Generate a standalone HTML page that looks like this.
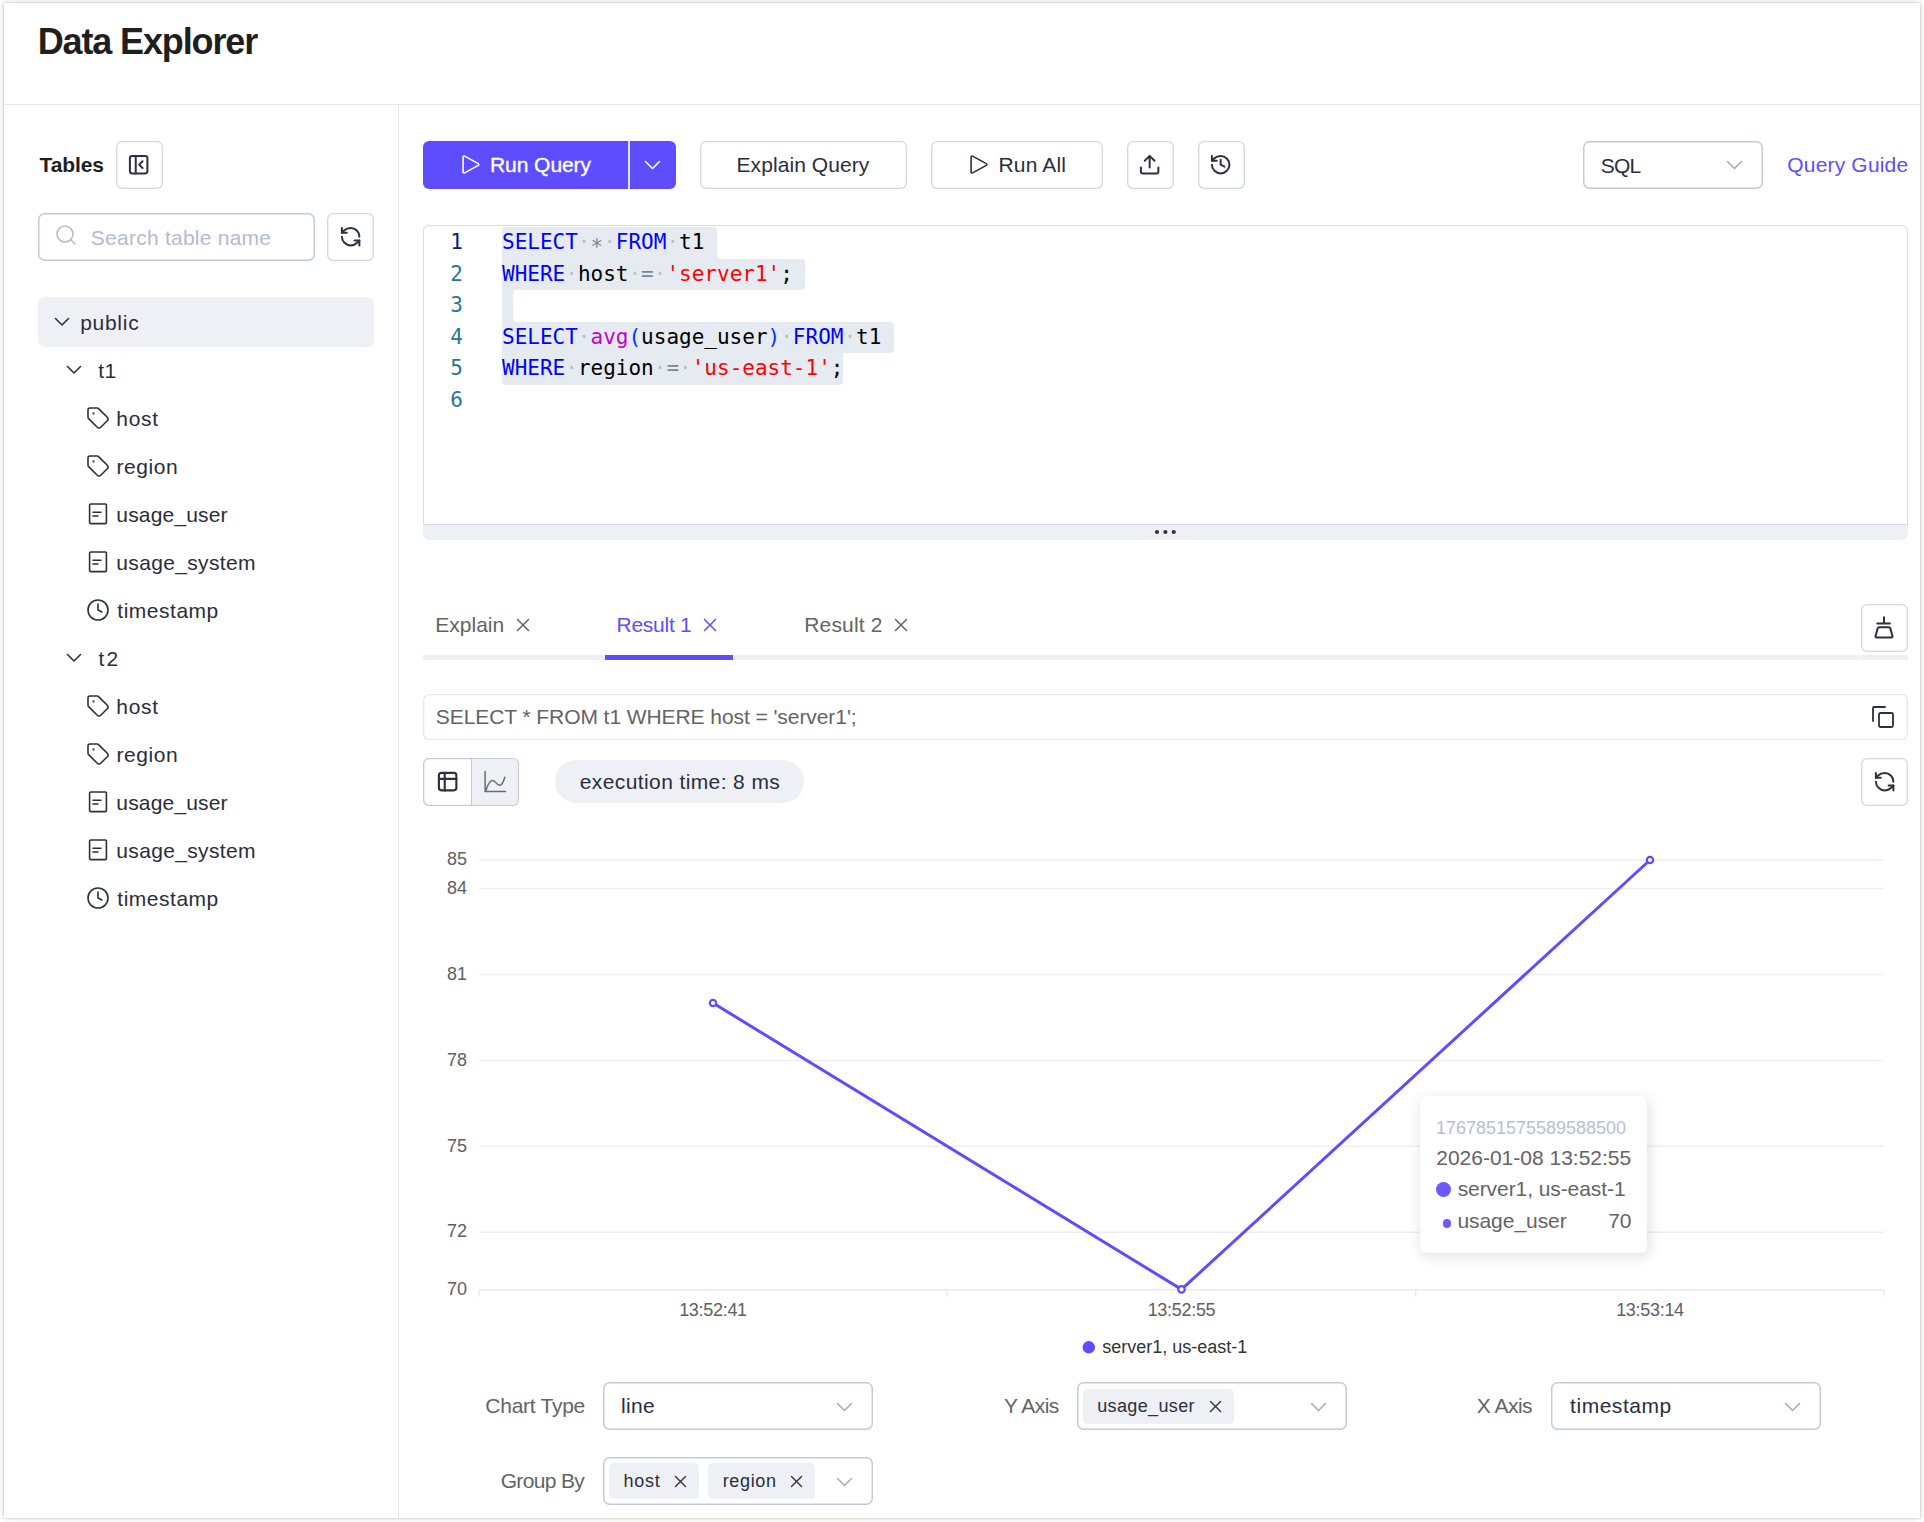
<!DOCTYPE html>
<html lang="en">
<head>
<meta charset="utf-8">
<title>Data Explorer</title>
<style>
*{box-sizing:border-box;margin:0;padding:0}
html,body{width:1924px;height:1522px;overflow:hidden;background:#fff}
body{font-family:"Liberation Sans","DejaVu Sans",sans-serif;color:#2a2e3c;font-size:21px;position:relative}
#page{position:absolute;left:4px;top:3px;width:1916px;height:1515px;background:#fff;box-shadow:0 0 5px rgba(0,0,0,.22),0 0 1px rgba(0,0,0,.25)}
.abs,.t,.box,svg.i{position:absolute}
.t{white-space:pre;line-height:1;display:block}
.b{font-weight:bold}
.box{border:none;box-shadow:inset 0 0 0 1.350px var(--bc,#d5d8e2);border-radius:6px;background:#fff}
.inp{--bc:#c4c9d8;box-shadow:inset 0 0 0 1.500px var(--bc);border-radius:6.500px}
svg.i{overflow:visible;fill:none;stroke:#2d303d;stroke-width:1.6;stroke-linecap:round;stroke-linejoin:round}
svg.ib{stroke-width:2.060}
.hl{position:absolute;background:#e5ebf1}
.code{font-family:"DejaVu Sans Mono","Liberation Mono",monospace;font-size:21px;letter-spacing:0}
.kw{color:#0000ff}.fn{color:#c700c7}.st{color:#ff0000}.op{color:#778899}.br{color:#0431fa}.ws{color:rgba(51,51,51,.25)}
.ln{color:#237893;text-align:right;width:40px}
.gray{color:#636363}
.pu{color:#5e4dff}
.tag{position:absolute;background:#eff0f6;border-radius:5px}
</style>
</head>
<body>
<div id="page"></div>

<!-- ===== header ===== -->
<span id="title" class="t b" style="left:37.71px;letter-spacing:-1.136px;top:23.8px;font-size:36px;color:#1f1f1f">Data Explorer</span>
<div class="abs" style="left:4px;top:104px;width:1916px;height:1px;background:#e5e6ea"></div>
<div class="abs" style="left:398px;top:105px;width:1px;height:1413px;background:#e5e6ea"></div>

<!-- ===== sidebar ===== -->
<span id="tables" class="t b" style="left:39.48px;letter-spacing:-0.095px;top:154px;color:#1f1f1f">Tables</span>
<div class="box" style="left:116px;top:141px;width:47px;height:48px"></div>
<svg class="i ib" style="left:127px;top:153.200px" width="23.300" height="23.300" viewBox="0 0 24 24"><rect x="3" y="3" width="18" height="18" rx="2.200"/><path d="M9 3v18M16 15.500l-3.500-3.500 3.500-3.500"/></svg>

<div class="box inp" style="left:38px;top:213px;width:277px;height:48px"></div>
<svg class="i" style="left:54px;top:223px;stroke:#b6bdcd" width="24" height="24" viewBox="0 0 24 24"><circle cx="11" cy="11" r="8"/><path d="M21 21l-4.3-4.3"/></svg>
<span id="ph" class="t" style="left:90.82px;letter-spacing:0.245px;top:227px;color:#b4bbcc">Search table name</span>
<div class="box" style="left:327px;top:213px;width:47px;height:48px"></div>
<svg class="i ib" style="left:338.800px;top:225.200px" width="23.300" height="23.300" viewBox="0 0 24 24"><path d="M21 12a9 9 0 0 0-9-9 9.750 9.750 0 0 0-6.740 2.740L3 8"/><path d="M3 3v5h5"/><path d="M3 12a9 9 0 0 0 9 9 9.750 9.750 0 0 0 6.740-2.740L21 16"/><path d="M16 16h5v5"/></svg>

<div class="abs" style="left:38px;top:297px;width:336px;height:50px;background:#eff0f6;border-radius:7px"></div>
<svg class="i" style="left:55px;top:318px" width="14" height="8" viewBox="0 0 14 8"><path d="M0.5 0.5l6.5 6.5 6.5-6.5"/></svg>
<span id="s_public" class="t" style="left:80.13px;letter-spacing:0.732px;top:312px">public</span>

<svg class="i" style="left:67px;top:366px" width="14" height="8" viewBox="0 0 14 8"><path d="M0.5 0.5l6.5 6.5 6.5-6.5"/></svg>
<span id="s_t1" class="t" style="left:98.300px;letter-spacing:0.300px;top:360px">t1</span>
<svg class="i" style="left:86px;top:406px" width="24" height="24" viewBox="0 0 24 24"><path d="M12.586 2.586A2 2 0 0 0 11.172 2H4a2 2 0 0 0-2 2v7.172a2 2 0 0 0 .586 1.414l8.704 8.704a2.426 2.426 0 0 0 3.42 0l6.58-6.58a2.426 2.426 0 0 0 0-3.42z"/><circle cx="7.500" cy="7.500" r=".350" fill="#2a2e3c"/></svg>
<span id="s_host1" class="t" style="left:116.29px;letter-spacing:0.731px;top:408px">host</span>
<svg class="i" style="left:86px;top:454px" width="24" height="24" viewBox="0 0 24 24"><path d="M12.586 2.586A2 2 0 0 0 11.172 2H4a2 2 0 0 0-2 2v7.172a2 2 0 0 0 .586 1.414l8.704 8.704a2.426 2.426 0 0 0 3.42 0l6.58-6.58a2.426 2.426 0 0 0 0-3.42z"/><circle cx="7.500" cy="7.500" r=".350" fill="#2a2e3c"/></svg>
<span id="s_region1" class="t" style="left:116.52px;letter-spacing:0.553px;top:456px">region</span>
<svg class="i" style="left:86px;top:502px" width="24" height="24" viewBox="0 0 24 24"><rect x="3.6" y="2" width="16.8" height="19.6" rx="1"/><path d="M7 10.3h8M7 14h5"/></svg>
<span id="s_uu1" class="t" style="left:116.35px;letter-spacing:0.169px;top:504px">usage_user</span>
<svg class="i" style="left:86px;top:550px" width="24" height="24" viewBox="0 0 24 24"><rect x="3.6" y="2" width="16.8" height="19.6" rx="1"/><path d="M7 10.3h8M7 14h5"/></svg>
<span id="s_us1" class="t" style="left:116.35px;letter-spacing:0.337px;top:552px">usage_system</span>
<svg class="i" style="left:86px;top:598px" width="24" height="24" viewBox="0 0 24 24"><circle cx="12" cy="12" r="10"/><path d="M12 6v6l4 2"/></svg>
<span id="s_ts1" class="t" style="left:117.35px;letter-spacing:0.511px;top:600px">timestamp</span>

<svg class="i" style="left:67px;top:654px" width="14" height="8" viewBox="0 0 14 8"><path d="M0.5 0.5l6.5 6.5 6.5-6.5"/></svg>
<span id="s_t2" class="t" style="left:98.39px;letter-spacing:2.275px;top:648px">t2</span>
<svg class="i" style="left:86px;top:694px" width="24" height="24" viewBox="0 0 24 24"><path d="M12.586 2.586A2 2 0 0 0 11.172 2H4a2 2 0 0 0-2 2v7.172a2 2 0 0 0 .586 1.414l8.704 8.704a2.426 2.426 0 0 0 3.42 0l6.58-6.58a2.426 2.426 0 0 0 0-3.42z"/><circle cx="7.500" cy="7.500" r=".350" fill="#2a2e3c"/></svg>
<span id="s_host2" class="t" style="left:116.29px;letter-spacing:0.731px;top:696px">host</span>
<svg class="i" style="left:86px;top:742px" width="24" height="24" viewBox="0 0 24 24"><path d="M12.586 2.586A2 2 0 0 0 11.172 2H4a2 2 0 0 0-2 2v7.172a2 2 0 0 0 .586 1.414l8.704 8.704a2.426 2.426 0 0 0 3.42 0l6.58-6.58a2.426 2.426 0 0 0 0-3.42z"/><circle cx="7.500" cy="7.500" r=".350" fill="#2a2e3c"/></svg>
<span id="s_region2" class="t" style="left:116.52px;letter-spacing:0.553px;top:744px">region</span>
<svg class="i" style="left:86px;top:790px" width="24" height="24" viewBox="0 0 24 24"><rect x="3.6" y="2" width="16.8" height="19.6" rx="1"/><path d="M7 10.3h8M7 14h5"/></svg>
<span id="s_uu2" class="t" style="left:116.35px;letter-spacing:0.169px;top:792px">usage_user</span>
<svg class="i" style="left:86px;top:838px" width="24" height="24" viewBox="0 0 24 24"><rect x="3.6" y="2" width="16.8" height="19.6" rx="1"/><path d="M7 10.3h8M7 14h5"/></svg>
<span id="s_us2" class="t" style="left:116.35px;letter-spacing:0.337px;top:840px">usage_system</span>
<svg class="i" style="left:86px;top:886px" width="24" height="24" viewBox="0 0 24 24"><circle cx="12" cy="12" r="10"/><path d="M12 6v6l4 2"/></svg>
<span id="s_ts2" class="t" style="left:117.35px;letter-spacing:0.511px;top:888px">timestamp</span>
<!-- SIDEBAR -->
<!-- ===== toolbar ===== -->
<div class="abs" style="left:423px;top:141px;width:253px;height:48px;background:#5e4dff;border-radius:6px"></div>
<div class="abs" style="left:628px;top:141px;width:1.5px;height:48px;background:#e3dfff"></div>
<svg class="i" style="left:459px;top:153px;stroke:#fff" width="24" height="24" viewBox="0 0 24 24"><path d="M4.100 4V19a1 1 0 0 0 1.520.860L19.300 12.360a1 1 0 0 0 0-1.720L5.620 3.140A1 1 0 0 0 4.100 4z"/></svg>
<span id="runq" class="t" style="left:489.99px;letter-spacing:-0.06px;top:154px;color:#fff;-webkit-text-stroke:.35px #fff">Run Query</span>
<svg class="i" style="left:644.5px;top:161px;stroke:#fff" width="15" height="8" viewBox="0 0 15 8"><path d="M0.5 0.5l7 7 7-7"/></svg>

<div class="box" style="left:700px;top:141px;width:207px;height:48px"></div>
<span id="explq" class="t" style="left:736.53px;letter-spacing:0.069px;top:154px">Explain Query</span>
<div class="box" style="left:931px;top:141px;width:172px;height:48px"></div>
<svg class="i" style="left:967px;top:153px" width="24" height="24" viewBox="0 0 24 24"><path d="M4.100 4V19a1 1 0 0 0 1.520.860L19.300 12.360a1 1 0 0 0 0-1.720L5.620 3.140A1 1 0 0 0 4.100 4z"/></svg>
<span id="runall" class="t" style="left:998.54px;letter-spacing:0.145px;top:154px">Run All</span>
<div class="box" style="left:1127px;top:141px;width:47px;height:48px"></div>
<svg class="i ib" style="left:1138.100px;top:153.400px" width="23.300" height="23.300" viewBox="0 0 24 24"><path d="M12 3v12M7 8L12 3l5 5"/><path d="M3 15v4a2 2 0 0 0 2 2h14a2 2 0 0 0 2-2v-4"/></svg>
<div class="box" style="left:1198px;top:141px;width:47px;height:48px"></div>
<svg class="i ib" style="left:1208.700px;top:153.400px" width="23.300" height="23.300" viewBox="0 0 24 24"><path d="M3 12a9 9 0 1 0 9-9 9.75 9.75 0 0 0-6.740 2.740L3 8"/><path d="M3 3v5h5"/><path d="M12 7v5l4 2"/></svg>

<div class="box inp" style="left:1583px;top:141px;width:180px;height:48px"></div>
<span id="sql" class="t" style="left:1600.82px;letter-spacing:-0.822px;top:155px">SQL</span>
<svg class="i" style="left:1727px;top:161px;stroke:#a3aabb;stroke-width:1.5" width="15" height="8" viewBox="0 0 15 8"><path d="M0.5 0.5l7 7 7-7"/></svg>
<span id="qguide" class="t pu" style="left:1787.29px;letter-spacing:0.177px;top:154px">Query Guide</span>
<!-- TOOLBAR -->
<!-- ===== editor ===== -->
<div class="abs" style="left:423px;top:225px;width:1485px;height:315px;background:#eff0f6;border-radius:6px"></div>
<div class="abs" style="left:423px;top:225px;width:1485px;height:300px;background:#fff;border:1px solid #d9dce6;border-radius:6px 6px 0 0"></div>
<div class="hl" style="left:502px;top:227.0px;width:214.9px;height:31.8px;border-radius:4px 4px 0 0"></div>
<div class="hl" style="left:502px;top:258.5px;width:303.4px;height:31.8px;border-radius:0 4px 4px 0"></div>
<div class="hl" style="left:502px;top:290.0px;width:11.4px;height:31.8px"></div>
<div class="hl" style="left:502px;top:321.5px;width:391.8px;height:31.8px;border-radius:0 4px 4px 0"></div>
<div class="hl" style="left:502px;top:353.0px;width:341.3px;height:31.8px;border-radius:0 0 4px 4px"></div>
<div class="abs" style="left:716.900px;top:254.500px;width:4px;height:4px;background:radial-gradient(circle at 100% 0,#fff 3.600px,#e5ebf1 4.200px)"></div>
<div class="abs" style="left:513.400px;top:290.300px;width:4px;height:4px;background:radial-gradient(circle at 100% 100%,#fff 3.600px,#e5ebf1 4.200px)"></div>
<div class="abs" style="left:513.400px;top:317.500px;width:4px;height:4px;background:radial-gradient(circle at 100% 0,#fff 3.600px,#e5ebf1 4.200px)"></div>
<span class="t code ln" style="left:423px;top:232.0px;color:#0b216f">1</span>
<span id="code1" class="t code" style="left:502px;top:232.0px;color:#000"><span class="kw">SELECT</span><span class="ws">·</span><span class="op" style="position:relative;top:4.500px">*</span><span class="ws">·</span><span class="kw">FROM</span><span class="ws">·</span>t1</span>
<span class="t code ln" style="left:423px;top:263.5px">2</span>
<span id="code2" class="t code" style="left:502px;top:263.5px;color:#000"><span class="kw">WHERE</span><span class="ws">·</span>host<span class="ws">·</span><span class="op">=</span><span class="ws">·</span><span class="st">'server1'</span>;</span>
<span class="t code ln" style="left:423px;top:295.0px">3</span>
<span class="t code ln" style="left:423px;top:326.5px">4</span>
<span id="code4" class="t code" style="left:502px;top:326.5px;color:#000"><span class="kw">SELECT</span><span class="ws">·</span><span class="fn">avg</span><span class="br">(</span>usage_user<span class="br">)</span><span class="ws">·</span><span class="kw">FROM</span><span class="ws">·</span>t1</span>
<span class="t code ln" style="left:423px;top:358.0px">5</span>
<span id="code5" class="t code" style="left:502px;top:358.0px;color:#000"><span class="kw">WHERE</span><span class="ws">·</span>region<span class="ws">·</span><span class="op">=</span><span class="ws">·</span><span class="st">'us-east-1'</span>;</span>
<span class="t code ln" style="left:423px;top:389.5px">6</span>
<svg class="abs" style="left:1153px;top:528px" width="26" height="8" viewBox="0 0 26 8"><circle cx="4" cy="4" r="2.100" fill="#2d303d"/><circle cx="12.400" cy="4" r="2.100" fill="#2d303d"/><circle cx="20.800" cy="4" r="2.100" fill="#2d303d"/></svg>
<!-- EDITOR -->
<!-- ===== tabs ===== -->
<div class="abs" style="left:423px;top:655px;width:1437px;height:5px;background:#eff0f6"></div>
<div class="abs" style="left:1861px;top:655px;width:47px;height:5px;background:#eff0f6"></div>
<div class="abs" style="left:605px;top:655px;width:128px;height:5px;background:#5e4dff"></div>
<span id="tab1" class="t gray" style="left:435.19px;letter-spacing:0.03px;top:614px">Explain</span>
<svg class="i" style="left:516.500px;top:618.500px;stroke:#636363;stroke-width:1.5" width="12" height="12" viewBox="0 0 12 12"><path d="M0.5 0.5l11 11M11.500 0.5l-11 11"/></svg>
<span id="tab2" class="t pu" style="left:616.54px;letter-spacing:-0.259px;top:614px">Result 1</span>
<svg class="i" style="left:704px;top:618.500px;stroke:#5e4dff;stroke-width:1.5" width="12" height="12" viewBox="0 0 12 12"><path d="M0.5 0.5l11 11M11.500 0.5l-11 11"/></svg>
<span id="tab3" class="t gray" style="left:804.24px;letter-spacing:0.158px;top:614px">Result 2</span>
<svg class="i" style="left:894.500px;top:618.500px;stroke:#636363;stroke-width:1.5" width="12" height="12" viewBox="0 0 12 12"><path d="M0.5 0.5l11 11M11.500 0.5l-11 11"/></svg>
<div class="box" style="left:1861px;top:604px;width:47px;height:48px"></div>
<svg class="i" style="left:1872px;top:612px;stroke-width:2" width="24" height="28" viewBox="0 0 24 28"><path d="M12 5.200V11.400M5.200 11.400H17.900M7.400 15.300H16.600Q18.100 15.300 18.500 16.800L20.400 24Q20.800 25.600 19.200 25.600H4.800Q3.200 25.600 3.600 24L5.500 16.800Q5.900 15.300 7.400 15.300Z"/></svg>

<!-- sql bar -->
<div class="box" style="left:423px;top:694px;width:1485px;height:46px;--bc:#e6e8ee"></div>
<span id="sqlbar" class="t gray" style="left:435.82px;letter-spacing:-0.072px;top:706.4px">SELECT * FROM t1 WHERE host = 'server1';</span>
<svg class="i" style="left:1870.500px;top:704.800px;stroke-width:1.800" width="24" height="24" viewBox="0 0 24 24"><rect x="8" y="8" width="14" height="14" rx="1.500"/><path d="M2 16V3A1 1 0 0 1 3 2H14"/></svg>

<!-- view toggle -->
<div class="box" style="left:423px;top:758px;width:96px;height:48px;--bc:#c6cbda"></div>
<div class="abs" style="left:472px;top:759px;width:46px;height:46px;background:#eff0f6;border-radius:0 5px 5px 0"></div>
<div class="abs" style="left:471px;top:758px;width:1px;height:48px;background:#c3c8d8"></div>
<svg class="i ib" style="left:435.700px;top:770.200px;stroke-width:2.200" width="23.300" height="23.300" viewBox="0 0 24 24"><rect x="3" y="3" width="18" height="18" rx="2.600"/><path d="M3 9.200h18M9 3v18"/></svg>
<svg class="i" style="left:483px;top:770px;stroke:#6b6b6b;stroke-width:1.500" width="24" height="24" viewBox="0 0 24 24"><path d="M2.100 1.400V21.400H22.600"/><path d="M3 20.600C4.500 15 7 10.400 9.700 10.400C12.700 10.400 13.500 15.300 16.500 15.300C19 15.300 20.800 11 21.800 7.300"/></svg>
<div class="abs" style="left:555px;top:760px;width:249px;height:43px;background:#eff0f6;border-radius:22px"></div>
<span id="exec" class="t" style="left:579.79px;letter-spacing:0.391px;top:771px">execution time: 8 ms</span>
<div class="box" style="left:1861px;top:758px;width:47px;height:48px"></div>
<svg class="i ib" style="left:1872.900px;top:770.200px" width="23.300" height="23.300" viewBox="0 0 24 24"><path d="M21 12a9 9 0 0 0-9-9 9.750 9.750 0 0 0-6.740 2.740L3 8"/><path d="M3 3v5h5"/><path d="M3 12a9 9 0 0 0 9 9 9.750 9.750 0 0 0 6.740-2.740L21 16"/><path d="M16 16h5v5"/></svg>
<!-- TABS -->
<!-- ===== chart ===== -->
<svg class="abs" style="left:423px;top:830px;font-family:'Liberation Sans',sans-serif" width="1485" height="540" viewBox="423 830 1485 540">
<g stroke="#eceef6" stroke-width="1.5" fill="none">
<path d="M479 860H1884M479 888.6H1884M479 974.5H1884M479 1060.4H1884M479 1146.3H1884M479 1232.2H1884"/>
<path d="M479 1289.7H1884M479 1289.7v7M947.3 1289.7v7M1415.700 1289.7v7M1884 1289.7v7" stroke="#e9ebf4"/>
</g>
<g font-size="18" fill="#606060" text-anchor="end">
<text x="467" y="865">85</text>
<text x="467" y="893.5">84</text>
<text x="467" y="979.5">81</text>
<text x="467" y="1065.5">78</text>
<text x="467" y="1151.5">75</text>
<text x="467" y="1237">72</text>
<text x="467" y="1294.5">70</text>
</g>
<g font-size="18" fill="#606060" text-anchor="middle" letter-spacing="-0.3">
<text x="713" y="1315.700">13:52:41</text>
<text x="1181.500" y="1315.700">13:52:55</text>
<text x="1650" y="1315.700">13:53:14</text>
</g>
<polyline points="713,1003 1181.500,1289.400 1650,860" fill="none" stroke="#5e4dff" stroke-width="3" stroke-linejoin="bevel"/>
<g fill="#fff" stroke="#5e4dff" stroke-width="2.200">
<circle cx="713" cy="1003" r="3.200"/><circle cx="1181.500" cy="1289.400" r="3.200"/><circle cx="1650" cy="860" r="3.200"/>
</g>
<circle cx="1088.800" cy="1347.300" r="6.200" fill="#5e4dff"/>
<text x="1102.300" y="1352.800" font-size="18" fill="#333">server1, us-east-1</text>
</svg>
<!-- tooltip -->
<div class="abs" style="left:1420px;top:1095.500px;width:227px;height:157px;background:#fff;border-radius:6px;box-shadow:1.500px 3px 14px rgba(0,0,0,.13)"></div>
<span id="tt1" class="t" style="left:1435.97px;letter-spacing:-0.004px;top:1119px;font-size:18px;color:#b8c0cf">1767851575589588500</span>
<span id="tt2" class="t" style="left:1436.26px;letter-spacing:-0.003px;top:1147.400px;color:#646464">2026-01-08 13:52:55</span>
<div class="abs" style="left:1436px;top:1181.500px;width:15px;height:15px;border-radius:50%;background:#6a5aff"></div>
<span id="tt3" class="t" style="left:1457.68px;letter-spacing:-0.079px;top:1178.400px;color:#646464">server1, us-east-1</span>
<div class="abs" style="left:1442.500px;top:1219px;width:8.500px;height:8.500px;border-radius:50%;background:#6a5aff"></div>
<span id="tt4" class="t" style="left:1457.4px;letter-spacing:-0.043px;top:1210.400px;color:#646464">usage_user</span>
<span id="tt5" class="t" style="left:1608.32px;letter-spacing:-0.346px;top:1210.400px;color:#646464">70</span>
<!-- CHART -->
<!-- ===== controls ===== -->
<span id="c_ct" class="t gray" style="left:485.34px;letter-spacing:-0.262px;top:1394.800px;">Chart Type</span>
<div class="box inp" style="left:603px;top:1382px;width:270px;height:48px"></div>
<span id="c_line" class="t" style="left:621.1px;letter-spacing:0.316px;top:1395px;">line</span>
<svg class="i" style="left:837px;top:1402.500px;stroke:#a3aabb;stroke-width:1.5" width="15" height="8" viewBox="0 0 15 8"><path d="M0.5 0.5l7 7 7-7"/></svg>

<span id="c_y" class="t gray" style="left:1003.97px;letter-spacing:-0.53px;top:1394.800px;">Y Axis</span>
<div class="box inp" style="left:1077px;top:1382px;width:270px;height:48px"></div>
<div class="tag" style="left:1083px;top:1388.500px;width:151px;height:35.500px"></div>
<span id="c_yu" class="t" style="left:1097.17px;letter-spacing:0.377px;top:1397px;font-size:18px">usage_user</span>
<svg class="i" style="left:1209.500px;top:1400.500px;stroke-width:1.400" width="11" height="11" viewBox="0 0 11 11"><path d="M0.5 0.5l10 10M10.500 0.5l-10 10"/></svg>
<svg class="i" style="left:1311px;top:1402.500px;stroke:#a3aabb;stroke-width:1.5" width="15" height="8" viewBox="0 0 15 8"><path d="M0.5 0.5l7 7 7-7"/></svg>

<span id="c_x" class="t gray" style="left:1476.81px;letter-spacing:-0.523px;top:1394.800px;">X Axis</span>
<div class="box inp" style="left:1551px;top:1382px;width:270px;height:48px"></div>
<span id="c_ts" class="t" style="left:1570.1px;letter-spacing:0.525px;top:1395px;">timestamp</span>
<svg class="i" style="left:1785px;top:1402.500px;stroke:#a3aabb;stroke-width:1.5" width="15" height="8" viewBox="0 0 15 8"><path d="M0.5 0.5l7 7 7-7"/></svg>

<span id="c_gb" class="t gray" style="left:500.68px;letter-spacing:-0.661px;top:1469.800px;">Group By</span>
<div class="box inp" style="left:603px;top:1457px;width:270px;height:48px"></div>
<div class="tag" style="left:609px;top:1463px;width:90px;height:35.500px"></div>
<span id="c_h" class="t" style="left:623.62px;letter-spacing:0.729px;top:1471.500px;font-size:18px">host</span>
<svg class="i" style="left:674.500px;top:1475.500px;stroke-width:1.400" width="11" height="11" viewBox="0 0 11 11"><path d="M0.5 0.5l10 10M10.500 0.5l-10 10"/></svg>
<div class="tag" style="left:708px;top:1463px;width:107px;height:35.500px"></div>
<span id="c_r" class="t" style="left:722.69px;letter-spacing:0.645px;top:1471.500px;font-size:18px">region</span>
<svg class="i" style="left:790.500px;top:1475.500px;stroke-width:1.400" width="11" height="11" viewBox="0 0 11 11"><path d="M0.5 0.5l10 10M10.500 0.5l-10 10"/></svg>
<svg class="i" style="left:837px;top:1477.500px;stroke:#a3aabb;stroke-width:1.5" width="15" height="8" viewBox="0 0 15 8"><path d="M0.5 0.5l7 7 7-7"/></svg>
<!-- CONTROLS -->
</body>
</html>
